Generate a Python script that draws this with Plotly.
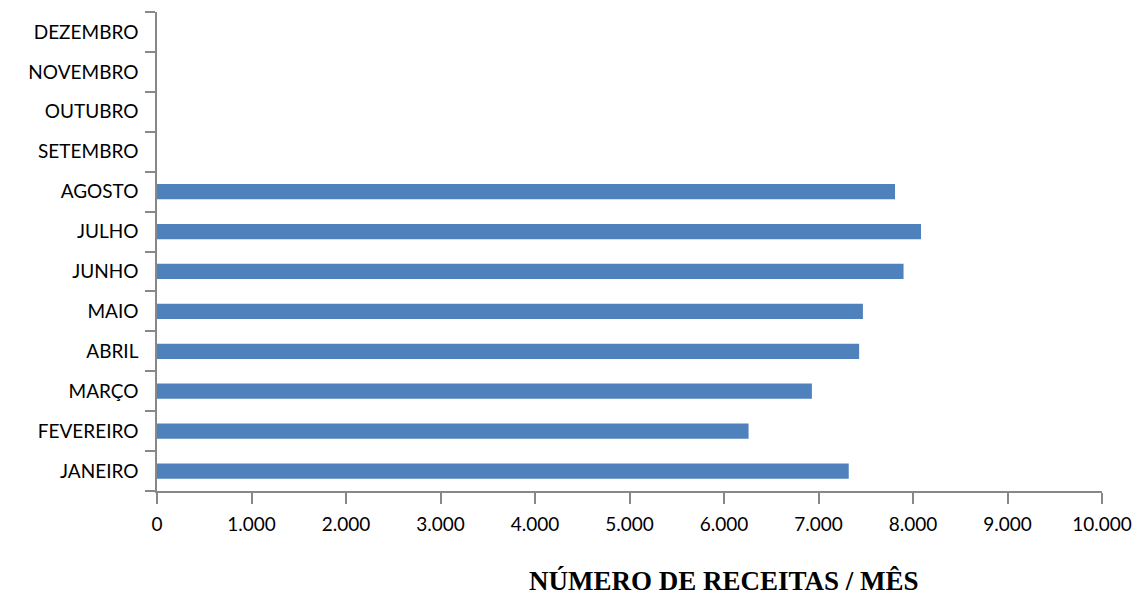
import plotly.graph_objects as go

months = ["JANEIRO", "FEVEREIRO", "MARÇO", "ABRIL", "MAIO", "JUNHO",
          "JULHO", "AGOSTO", "SETEMBRO", "OUTUBRO", "NOVEMBRO", "DEZEMBRO"]
receitas = [7320, 6260, 6930, 7430, 7470, 7900, 8085, 7810, 0, 0, 0, 0]
x_ticks = [0, 1000, 2000, 3000, 4000, 5000, 6000, 7000, 8000, 9000, 10000]
x_title = "NÚMERO DE RECEITAS / MÊS"

fig = go.Figure(go.Bar(
    y=months, x=receitas, orientation="h",
    marker=dict(color="#4F81BD", line=dict(width=0)),
    hoverinfo="x+y",
))

fig.update_layout(
    width=1136, height=590,
    margin=dict(l=149, r=42, t=4, b=107),
    paper_bgcolor="white", plot_bgcolor="white",
    separators=",.",
    bargap=0.62,
    showlegend=False,
    font=dict(family="Lato, Open Sans, sans-serif", size=18, color="black"),
    xaxis=dict(
        range=[0, 10000], tickvals=x_ticks, tickformat=",d",
        showgrid=False, zeroline=False,
        showline=True, linecolor="#888888", linewidth=1.5,
        ticks="outside", ticklen=11, tickcolor="#888888", tickwidth=1.5,
        tickfont=dict(size=19, color="black"),
        ticklabelstandoff=4,
    ),
    yaxis=dict(
        categoryorder="array", categoryarray=months,
        showgrid=False, zeroline=False,
        showline=True, linecolor="#888888", linewidth=1.5,
        ticks="outside", ticklen=10, tickcolor="#888888", tickwidth=1.5,
        tickson="boundaries",
        tickfont=dict(size=19, color="black"),
        ticklabelstandoff=13,
    ),
    annotations=[dict(
        text=f"<b>{x_title}</b>", xref="paper", yref="paper",
        x=0.6, y=-0.187, xanchor="center", yanchor="middle",
        showarrow=False,
        font=dict(family="Liberation Serif, Times New Roman, serif", size=27, color="black"),
    )],
)

fig.write_html("out.html")
